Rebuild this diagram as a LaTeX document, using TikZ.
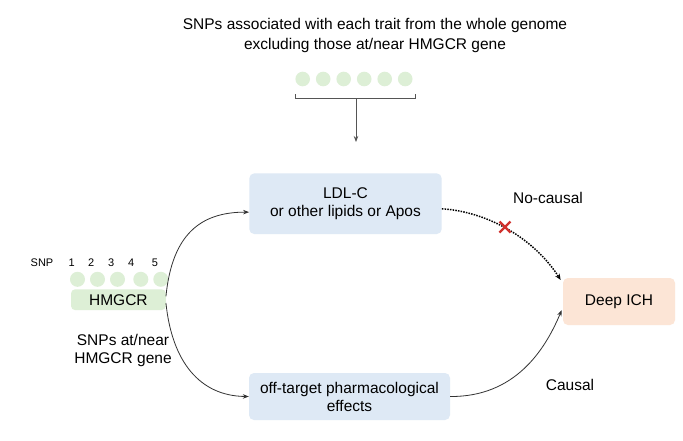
\documentclass[tikz,border=0pt]{standalone}
\usepackage{fontspec}
\setmainfont{Liberation Sans}
\usetikzlibrary{arrows.meta}
\definecolor{gfill}{HTML}{DDEFD6}
\definecolor{bfill}{HTML}{DEE9F5}
\definecolor{ofill}{HTML}{FCE5D6}
\definecolor{lcol}{HTML}{333333}
\definecolor{bcol}{HTML}{555555}
\definecolor{xred}{HTML}{D0312D}
\begin{document}
\begin{tikzpicture}[x=1pt,y=-1pt,
  txt/.style={font=\fontsize{15.5}{18}\selectfont, align=center, inner sep=0pt, text=black},
  boxn/.style={txt, rounded corners=5pt, draw=none},
  dotc/.style={circle, fill=gfill, minimum size=15pt, inner sep=0pt},
  small/.style={font=\fontsize{11}{13}\selectfont, inner sep=0pt},
  arr/.style={draw=lcol, line width=0.8pt, -{Stealth[length=6pt,width=4.5pt]}},
  ]
\useasboundingbox[fill=white] (0,0) rectangle (683,440);
% title
\node[txt, font=\fontsize{15.5}{20}\selectfont] (title) at (375,35) {SNPs associated with each trait from the whole genome\\excluding those at/near HMGCR gene};
% top dots
\foreach \i in {0,...,5} \node[dotc, minimum size=14.6pt] (t\i) at (302.7+20.5*\i,79) {};
% bracket
\coordinate (bl) at (295,94);
\coordinate (br) at (415.7,94);
\coordinate (bm) at (356,98.3);
\coordinate (bend) at (356,142);
\draw[draw=bcol, line width=0.8pt] (bl) -- ++(0,4.3) -| (br);
\draw[arr, draw=bcol] (bm) -- (bend);
% boxes
\node[boxn, fill=bfill, minimum width=192.4pt, minimum height=60.7pt] (ldl) at (345.5,203.7) {LDL-C\\or other lipids or Apos};
\node[boxn, fill=bfill, minimum width=201pt, minimum height=47pt] (off) at (349.5,396.5) {off-target pharmacological\\effects};
\node[boxn, fill=ofill, minimum width=112pt, minimum height=47pt] (deep) at (619,301.5) {Deep ICH};
% SNP dots
\node[dotc] (s1) at (77.5,279.3) {};
\node[dotc] (s2) at (97.5,279.3) {};
\node[dotc] (s3) at (117.5,279.3) {};
\node[dotc] (s4) at (140.8,279.3) {};
\node[dotc] (s5) at (160.8,279.3) {};
\node[boxn, fill=gfill, rounded corners=4pt, minimum width=94.7pt, minimum height=20.7pt] (hm) at (118.4,299.7) {HMGCR};
% SNP labels
\node[small] (snp) at (42,263) {SNP};
\node[small] (n1) at (71.7,263) {1};
\node[small] (n2) at (91.3,263) {2};
\node[small] (n3) at (111.2,263) {3};
\node[small] (n4) at (131.3,263) {4};
\node[small] (n5) at (155,263) {5};
% side text and labels
\node[txt] (side) at (123,350) {SNPs at/near\\HMGCR gene};
\node[txt] (nc) at (548,198) {No-causal};
\node[txt] (ca) at (570,385) {Causal};
% connectors
\draw[arr] (hm.4) .. controls (172,235) and (200,212) .. (ldl.185);
\draw[arr] (hm.-4) .. controls (172,362) and (200,396) .. (off.west);
\draw[arr, shorten >=3pt] (off.east) .. controls (515,397) and (545,350) .. (deep.186);
\draw[draw=black, line width=1.5pt, dash pattern=on 1.5pt off 1.2pt, -{Stealth[length=6pt,width=5pt]}, shorten >=4pt] (ldl.-3) .. controls (490,212) and (535,240) .. (deep.162);
% red cross
\draw[xred, line width=2.2pt] (499.5,221.5) -- (510.5,232.5) (499.5,232.5) -- (510.5,221.5);
\end{tikzpicture}
\end{document}
